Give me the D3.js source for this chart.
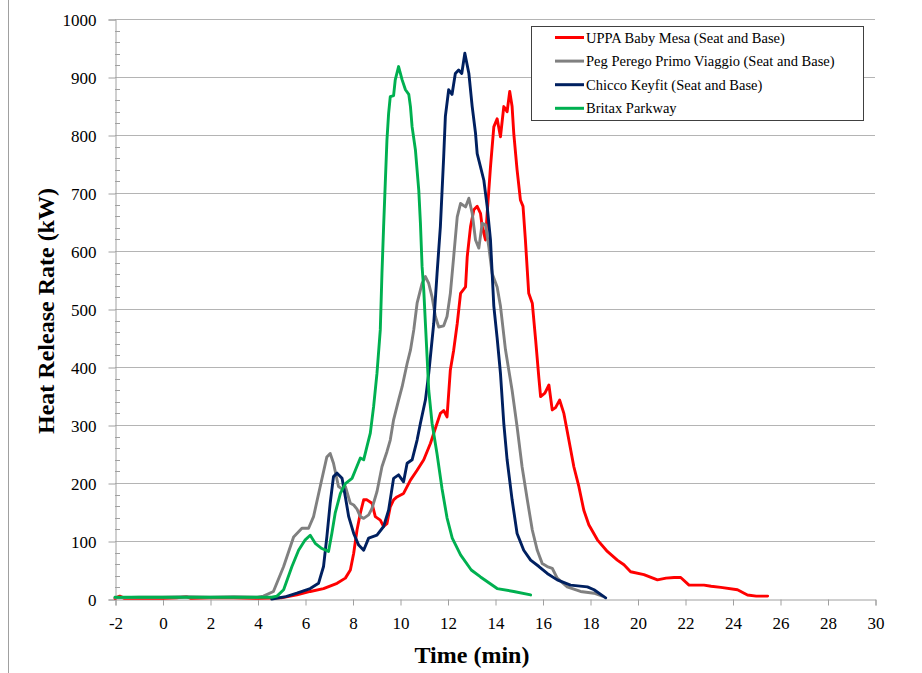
<!DOCTYPE html>
<html><head><meta charset="utf-8">
<script src="https://cdn.jsdelivr.net/npm/d3@7"></script>
<style>
html,body{margin:0;padding:0;background:#fff;}
svg{display:block;}
</style></head>
<body>
<svg id="chart" width="922" height="673"></svg>
<script>
// ---- data ----
const seriesNames = ["UPPA Baby Mesa (Seat and Base)", "Peg Perego Primo Viaggio (Seat and Base)", "Chicco Keyfit (Seat and Base)", "Britax Parkway"];
const seriesColors = ["#ff0000", "#808080", "#002060", "#00b050"];
const xTicks = [-2,0,2,4,6,8,10,12,14,16,18,20,22,24,26,28,30];
const yTicks = [0,100,200,300,400,500,600,700,800,900,1000];

const uppa = [[-2,1],[-1.8,5],[-1.6,1],[-1,1],[0,1],[0.6,2],[1,4],[1.2,1],[2,2],[3,2],[4,1],[5,2],[5.66,7],[6.22,13],[6.78,18],[7.35,27],[7.7,36],[7.91,50],[8.05,79],[8.19,119],[8.33,148],[8.47,171],[8.61,171],[8.82,165],[8.96,142],[9.17,136],[9.31,125],[9.45,130],[9.59,159],[9.73,171],[9.87,176],[10.15,182],[10.44,205],[10.72,222],[11.0,240],[11.28,268],[11.56,303],[11.7,320],[11.84,325],[11.98,314],[12.12,395],[12.26,429],[12.41,475],[12.55,527],[12.76,538],[12.83,590],[12.97,642],[13.11,671],[13.25,677],[13.39,665],[13.46,642],[13.6,619],[13.67,665],[13.81,745],[13.95,814],[14.09,828],[14.23,797],[14.37,849],[14.51,840],[14.62,875],[14.72,849],[14.79,803],[14.93,740],[15.07,688],[15.18,677],[15.28,619],[15.42,527],[15.57,510],[15.71,447],[15.85,380],[15.92,349],[16.1,355],[16.27,369],[16.41,326],[16.55,330],[16.72,343],[16.9,320],[17.11,274],[17.32,228],[17.53,194],[17.74,153],[17.95,128],[18.31,102],[18.73,82],[19.15,67],[19.43,59],[19.71,47],[20.27,42],[20.84,33],[21.2,36],[21.54,37],[21.82,37],[22.17,24],[22.8,24],[23.1,22],[23.51,20],[24.21,16],[24.63,7],[25.0,5],[25.48,5]];

const pegPerego = [[-2,2],[-1,3],[0,3],[1,4],[2,3],[3,4],[4,3],[4.25,5],[4.67,13],[5.1,56],[5.52,107],[5.87,122],[6.15,122],[6.36,142],[6.64,194],[6.92,245],[7.06,251],[7.2,234],[7.41,194],[7.55,190],[7.7,194],[7.91,165],[8.05,162],[8.19,155],[8.33,142],[8.47,139],[8.68,145],[8.82,156],[9.03,185],[9.24,228],[9.45,254],[9.59,274],[9.73,309],[9.94,343],[10.09,366],[10.3,406],[10.44,429],[10.58,464],[10.72,510],[10.93,544],[11.07,556],[11.21,544],[11.35,521],[11.49,487],[11.63,469],[11.84,471],[11.98,487],[12.12,527],[12.26,590],[12.41,659],[12.55,682],[12.76,676],[12.9,691],[13.04,665],[13.18,619],[13.32,605],[13.46,648],[13.6,645],[13.74,607],[13.88,561],[14.09,538],[14.23,505],[14.44,430],[14.58,395],[14.72,360],[14.93,297],[15.14,228],[15.36,171],[15.57,119],[15.78,84],[15.99,61],[16.2,56],[16.41,53],[16.62,36],[17.04,21],[17.6,13],[18.17,10],[18.52,5]];

const chicco = [[4.6,0],[5.2,4],[5.66,10],[6.22,18],[6.57,27],[6.78,56],[6.92,107],[7.06,165],[7.2,211],[7.35,217],[7.56,208],[7.7,176],[7.84,142],[8.05,113],[8.26,93],[8.47,84],[8.68,105],[9.03,110],[9.31,125],[9.52,153],[9.73,208],[9.94,214],[10.15,202],[10.3,234],[10.51,240],[10.72,274],[10.86,303],[11.07,343],[11.21,389],[11.42,475],[11.56,561],[11.7,642],[11.84,763],[11.91,832],[12.05,878],[12.19,870],[12.33,906],[12.47,912],[12.6,906],[12.73,941],[12.9,906],[13.04,849],[13.18,803],[13.25,768],[13.39,745],[13.53,722],[13.67,677],[13.81,619],[13.95,505],[14.09,450],[14.23,389],[14.37,303],[14.51,240],[14.72,171],[14.93,113],[15.21,84],[15.5,67],[15.85,56],[16.2,44],[16.62,33],[17.18,24],[17.89,21],[18.17,16],[18.66,2]];

const britax = [[-2,3],[0,3],[2,3],[4,3],[4.6,3],[4.82,5],[5.1,16],[5.45,56],[5.73,84],[6.01,102],[6.22,110],[6.43,96],[6.71,87],[6.99,82],[7.13,113],[7.27,148],[7.49,182],[7.7,199],[7.98,208],[8.12,222],[8.33,243],[8.47,240],[8.61,263],[8.75,286],[8.89,332],[9.03,389],[9.17,464],[9.24,561],[9.31,642],[9.38,717],[9.45,791],[9.52,837],[9.59,866],[9.73,868],[9.8,895],[9.94,918],[10.09,895],[10.23,878],[10.37,870],[10.44,849],[10.51,814],[10.65,774],[10.79,705],[10.86,648],[10.93,573],[11.0,533],[11.07,475],[11.14,418],[11.21,360],[11.35,303],[11.56,250],[11.77,190],[11.98,140],[12.2,105],[12.55,76],[13.0,50],[13.39,38],[14.09,18],[14.79,13],[15.5,7]];

const allSeries = [uppa, pegPerego, chicco, britax];

// ---- drawing ----
const svg = d3.select("#chart");
const L = 115, R = 875, T = 19, B = 599;
const x = d3.scaleLinear().domain([-2,30]).range([L,R]);
const y = d3.scaleLinear().domain([0,1000]).range([B,T]);
const serif = "'Liberation Serif','Times New Roman',serif";
const fmt = d => String(d);

// frame line at left
svg.append("line").attr("x1",8.5).attr("x2",8.5).attr("y1",0).attr("y2",673)
  .attr("stroke","#a0a0a0").attr("stroke-width",1);

// gridlines
svg.append("g").selectAll("line").data(yTicks.filter(d=>d>0)).join("line")
  .attr("x1",L).attr("x2",R).attr("y1",d=>Math.round(y(d))+0.5).attr("y2",d=>Math.round(y(d))+0.5)
  .attr("stroke","#b4b4b4").attr("stroke-width",1);

// y axis
const yAxis = d3.axisLeft(y).tickValues(yTicks).tickSize(7).tickFormat(fmt);
const gy = svg.append("g").attr("transform",`translate(${L+0.5},0.5)`).call(yAxis)
  .attr("font-family",serif).attr("font-size",17);
gy.select(".domain").attr("stroke","#a0a0a0");
gy.selectAll(".tick line").attr("stroke","#a0a0a0");
gy.selectAll(".tick text").attr("x",-19).attr("dy","0.33em")
  .style("font-family",serif).style("font-size","17px").attr("fill","#000");
// minor ticks
const minor = d3.range(20,1000,20).filter(d=>d%100!==0);
svg.append("g").selectAll("line").data(minor).join("line")
  .attr("x1",L).attr("x2",L+5).attr("y1",d=>Math.round(y(d))+0.5).attr("y2",d=>Math.round(y(d))+0.5)
  .attr("stroke","#a0a0a0");

// x axis
const xAxis = d3.axisBottom(x).tickValues(xTicks).tickSize(6).tickFormat(fmt);
const gx = svg.append("g").attr("transform",`translate(0.5,${B+0.5})`).call(xAxis)
  .attr("font-family",serif).attr("font-size",17);
gx.select(".domain").attr("stroke","#a0a0a0");
gx.selectAll(".tick line").attr("stroke","#a0a0a0");
gx.selectAll(".tick text").attr("y",17).attr("dy","0.71em")
  .style("font-family",serif).style("font-size","17px").attr("fill","#000");

// lines
const line = d3.line().x(d=>x(d[0])).y(d=>y(d[1]));
svg.append("g").selectAll("path").data(allSeries).join("path")
  .attr("d",line).attr("fill","none")
  .attr("stroke",(d,i)=>seriesColors[i]).attr("stroke-width",2.9)
  .attr("stroke-linejoin","round").attr("stroke-linecap","round");

// axis titles
svg.append("text").attr("x",472).attr("y",663).attr("text-anchor","middle")
  .style("font-family",serif).style("font-size","24px").style("font-weight","bold")
  .text("Time (min)");
svg.append("text").attr("transform","translate(54,311) rotate(-90)").attr("text-anchor","middle")
  .style("font-family",serif).style("font-size","24px").style("font-weight","bold")
  .text("Heat Release Rate (kW)");

// legend
const lg = svg.append("g");
lg.append("rect").attr("x",531.5).attr("y",26.5).attr("width",332).attr("height",94)
  .attr("fill","#fff").attr("stroke","#404040").attr("stroke-width",1);
const rows = lg.selectAll("g.row").data(seriesNames).join("g").attr("class","row")
  .attr("transform",(d,i)=>`translate(0,${37.5+i*23.6})`);
rows.append("line").attr("x1",555).attr("x2",584).attr("y1",0).attr("y2",0)
  .attr("stroke",(d,i)=>seriesColors[i]).attr("stroke-width",3);
rows.append("text").attr("x",586).attr("y",5).text(d=>d)
  .style("font-family",serif).style("font-size","14.5px").attr("fill","#000");
</script>
</body></html>
